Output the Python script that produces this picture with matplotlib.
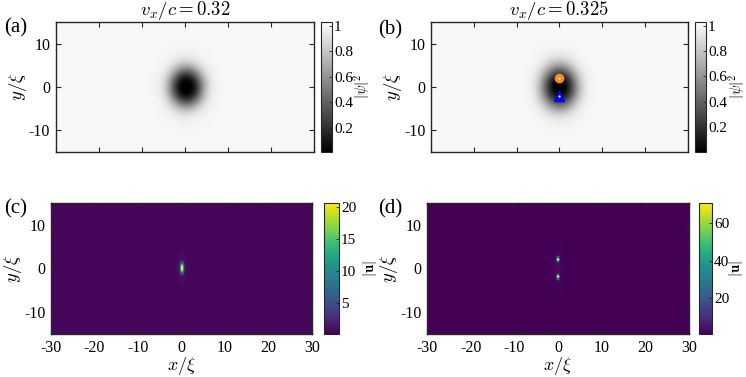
import numpy as np
import matplotlib
matplotlib.use("Agg")
import matplotlib.pyplot as plt

plt.rcParams['font.family'] = ['Liberation Serif', 'DejaVu Serif']
plt.rcParams['mathtext.fontset'] = 'cm'
plt.rcParams['axes.unicode_minus'] = False

# ---- data ----
x_ticks = [-30, -20, -10, 0, 10, 20, 30]
y_ticks = [-10, 0, 10]
titles = [r'$v_x/c = 0.32$', r'$v_x/c = 0.325$']
panel_labels = ['(a)', '(b)', '(c)', '(d)']
# density core (dark blob) parameters per panel (a),(b)
core_x0 = [0.2, 0.0]
core_rx = [3.9, 4.1]
core_ry = [4.5, 4.9]
dens_clim = [(0.01, 1.03), (0.0, 1.03)]
dens_ticks = [0.2, 0.4, 0.6, 0.8, 1.0]
# vortex positions in (b) / (d)
vort_x = [0.0, 0.0]
vort_y = [2.0, -2.0]
# |u| peaks and colour ranges for (c),(d)
u_base = [0.4, 1.0]
u_peak = [20.3, 70.0]
u_clim = [(0.1, 20.6), (0.8, 70.7)]
u_ticks = [[5, 10, 15, 20], [20, 40, 60]]

# ---- grid ----
xg = np.arange(-30, 30.01, 0.25)
yg = np.arange(-15, 15.01, 0.25)
X, Y = np.meshgrid(xg, yg)

def density(i):
    r2 = ((X - core_x0[i]) / core_rx[i])**2 + (Y / core_ry[i])**2
    rho = 1 - np.exp(-r2**1.25)
    halo = 0.035 * np.exp(-(((X) / 9)**2 + (Y / 12)**2))
    return np.clip(rho - halo + 0.01, 0, 1)

def speed_a():
    u = u_base[0] + u_peak[0] * np.exp(-(X / 0.3)**2 - (Y / 1.0)**2)
    u += 0.8 * np.exp(-(X / 1.0)**2 - (Y / 3.0)**2)
    return u

def speed_b():
    u = u_base[1] * np.ones_like(X)
    for vx, vy in zip(vort_x, vort_y):
        u += u_peak[1] * np.exp(-((X - vx) / 0.25)**2 - ((Y - vy) / 0.45)**2)
    u += 1.5 * np.exp(-(X / 1.0)**2 - (Y / 4.0)**2)
    return u

fig = plt.figure(figsize=(7.46, 3.77), dpi=100)

ax_pos = [
    [0.0747, 0.5968, 0.3462, 0.3448],
    [0.5777, 0.5968, 0.3445, 0.3448],
    [0.0684, 0.1141, 0.3499, 0.3475],
    [0.5724, 0.1141, 0.3512, 0.3475],
]
cb_pos = [
    [0.4303, 0.5968, 0.0147, 0.3448],
    [0.9316, 0.5968, 0.0147, 0.3448],
    [0.4343, 0.1141, 0.0201, 0.3475],
    [0.9370, 0.1141, 0.0174, 0.3475],
]
cb_label_px = [362, 737, 370, 736]
label_xy = [(0.005, 0.925), (0.507, 0.92), (0.005, 0.445), (0.507, 0.445)]

def style_axes(ax, show_x):
    ax.set_xlim(-30, 30)
    ax.set_ylim(-15, 15)
    ax.set_xticks(x_ticks)
    ax.set_yticks(y_ticks)
    ax.set_yticklabels([str(v) for v in y_ticks])
    if show_x:
        ax.set_xticklabels([str(v) for v in x_ticks])
        ax.set_xlabel(r'$x/\xi$', fontsize=13, labelpad=-0.5)
    else:
        ax.set_xticklabels([])
    ax.set_ylabel(r'$y/\xi$', fontsize=13.5, labelpad=0)
    ax.tick_params(direction='in', length=3.5, width=0.8, top=True, right=True,
                   labelsize=11.5, colors='#262626', labelcolor='black', pad=4)
    for s in ax.spines.values():
        s.set_linewidth(1.0)
        s.set_color('#262626')

def style_cb(cb, label, ticks, labels, k):
    cb.set_ticks(ticks)
    cb.set_ticklabels(labels)
    cb.ax.tick_params(direction='in', length=2.5, width=0.6, labelsize=11, pad=1.5,
                      colors='#262626', labelcolor='black')
    cb.outline.set_linewidth(0.8)
    cb.outline.set_edgecolor('#262626')
    p = cb_pos[k]
    fig.text(cb_label_px[k] / 746, p[1] + p[3] / 2, label, fontsize=10.5,
             rotation=90, ha='center', va='center')

ext = [xg[0] - 0.125, xg[-1] + 0.125, yg[0] - 0.125, yg[-1] + 0.125]

# (a), (b) density
for i in range(2):
    ax = fig.add_axes(ax_pos[i])
    im = ax.imshow(density(i), extent=ext, origin='lower', cmap='gray',
                   vmin=dens_clim[i][0], vmax=dens_clim[i][1], aspect='auto',
                   interpolation='bilinear')
    style_axes(ax, False)
    ax.set_title(titles[i], fontsize=13.5, pad=2)
    cax = fig.add_axes(cb_pos[i])
    cb = fig.colorbar(im, cax=cax)
    style_cb(cb, r'$|\psi|^2$', dens_ticks, ['0.2', '0.4', '0.6', '0.8', '1'], i)
    if i == 1:
        ax.plot([vort_x[0]], [vort_y[0]], 'o', color='#FF8A1E', ms=6, mec='#FF8A1E')
        ax.plot([vort_x[0]], [vort_y[0]], 'o', color='#FFE0B0', ms=2, mec='none')
        ax.plot([vort_x[1]], [vort_y[1]], '^', color='#0000FF', ms=6.5, mec='#0000FF')
        ax.plot([vort_x[1]], [vort_y[1]], 'o', color='white', ms=1.6, mec='none')

# (c), (d) speed
for j, field in enumerate([speed_a(), speed_b()]):
    ax = fig.add_axes(ax_pos[2 + j])
    im = ax.imshow(field, extent=ext, origin='lower', cmap='viridis',
                   vmin=u_clim[j][0], vmax=u_clim[j][1], aspect='auto',
                   interpolation='nearest')
    style_axes(ax, True)
    ax.set_xlim(-30, 30)
    ax.set_ylim(-15, 15)
    cax = fig.add_axes(cb_pos[2 + j])
    cb = fig.colorbar(im, cax=cax)
    style_cb(cb, r'$|\mathbf{u}|$', u_ticks[j], [str(t) for t in u_ticks[j]], 2 + j)

for k, (lx, ly) in enumerate(label_xy):
    fig.text(lx, ly, panel_labels[k], fontsize=15, ha='left', va='center')

fig.savefig('out.png', dpi=100)
